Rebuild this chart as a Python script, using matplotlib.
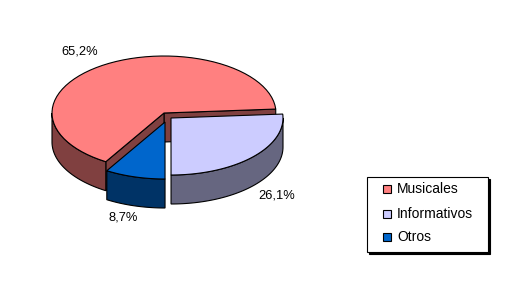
import numpy as np
import matplotlib
matplotlib.use("Agg")
import matplotlib.pyplot as plt
from matplotlib.patches import Polygon, Rectangle

# ── 数据 ──────────────────────────────────────────────
categories = ["Musicales", "Informativos", "Otros"]
values = [65.2, 26.1, 8.7]
labels = ["65,2%", "26,1%", "8,7%"]

top_colors = ["#FF8080", "#CCCCFF", "#0066CC"]
side_colors = ["#804040", "#666680", "#003366"]

# 3D 饼图几何（像素坐标，y 向下）
CX, CY = 164, 113
RX, RY = 112, 57
DEPTH = 29
START = 238.7            # 第一块的起始角（数学角度，顺时针排布）
explode = [(0, 0), (7, 5), (1, 9)]
label_pos = [(80, 52), (277, 195), (123, 217)]

plt.rcParams["font.family"] = ["Liberation Sans", "DejaVu Sans"]

fig = plt.figure(figsize=(5.3, 2.88), dpi=100)
ax = fig.add_axes([0, 0, 1, 1])
ax.set_xlim(0, 530)
ax.set_ylim(288, 0)
ax.axis("off")


def pt(t, dx, dy, z=0):
    r = np.radians(t)
    return (CX + dx + RX * np.cos(r), CY + dy - RY * np.sin(r) + z)


def arc(t1, t2, dx, dy, z=0, n=60):
    ts = np.linspace(t1, t2, n)
    return [pt(t, dx, dy, z) for t in ts]


total = sum(values)
angles = []
a = START
for v in values:
    span = v / total * 360
    angles.append((a - span, a))   # 逆时针方向 t1 < t2
    a -= span

edge_kw = dict(edgecolor="black", linewidth=0.8, joinstyle="miter")

for i, (t1, t2) in enumerate(angles):
    dx, dy = explode[i]
    apex_top = (CX + dx, CY + dy)
    apex_bot = (CX + dx, CY + dy + DEPTH)

    # 径向侧面
    for t, vis in ((t1, np.cos(np.radians(t1)) > 0.01),
                   (t2, np.cos(np.radians(t2)) < -0.01)):
        if vis:
            quad = [apex_top, pt(t, dx, dy), pt(t, dx, dy, DEPTH), apex_bot]
            ax.add_patch(Polygon(quad, closed=True, facecolor=side_colors[i], **edge_kw))

    # 外侧弧面（仅前半部分可见）
    lo, hi = t1 % 360, t1 % 360 + (t2 - t1)
    for base in (0, 360):
        s = max(lo, 180 + base)
        e = min(hi, 360 + base)
        if e > s:
            top = arc(s, e, dx, dy)
            bot = arc(e, s, dx, dy, DEPTH)
            ax.add_patch(Polygon(top + bot, closed=True, facecolor=side_colors[i], **edge_kw))

    # 顶面
    face = [apex_top] + arc(t1, t2, dx, dy)
    ax.add_patch(Polygon(face, closed=True, facecolor=top_colors[i], **edge_kw))

for lab, (x, y) in zip(labels, label_pos):
    ax.text(x, y, lab, ha="center", va="center", fontsize=9.3, color="black")

# ── 图例 ──────────────────────────────────────────────
lx0, ly0, lw, lh = 367, 177, 121, 75
ax.add_patch(Rectangle((lx0 + 2, ly0 + 2), lw, lh, facecolor="black", edgecolor="black", lw=0.8))
ax.add_patch(Rectangle((lx0, ly0), lw, lh, facecolor="white", edgecolor="black", lw=0.8))
row_y = [189, 214, 237]
for name, c, y in zip(categories, top_colors, row_y):
    ax.add_patch(Rectangle((383, y - 4), 8, 8, facecolor=c, edgecolor="black", lw=0.8))
    ax.text(397, y, name, ha="left", va="center", fontsize=10, color="black")

fig.savefig("out.png", dpi=100)
